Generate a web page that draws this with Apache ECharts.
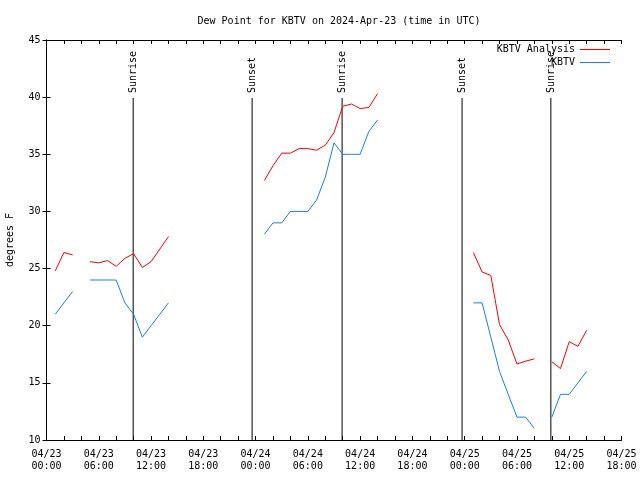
<!DOCTYPE html>
<html>
<head>
<meta charset="utf-8">
<script src="https://cdn.jsdelivr.net/npm/echarts@6/dist/echarts.min.js"></script>
<style>html,body{margin:0;padding:0;background:#fff}#c{width:640px;height:480px}</style>
</head>
<body>
<div id="c"></div>
<script>
// Hours since 2024-04-23 00:00 UTC (null = gap)
const hours = [1,2,3,4, 5,6,7,8,9,10,11,12,13,14, 15,
  25,26,27,28,29,30,31,32,33,34,35,36,37,38, 39,
  49,50,51,52,53,54,55,56, 57,
  58,59,60,61,62];
const analysis = [24.8,26.4,26.2,null, 25.6,25.5,25.7,25.2,25.9,26.3,25.1,25.6,26.7,27.8, null,
  32.7,34.0,35.1,35.1,35.5,35.5,35.35,35.8,36.9,39.2,39.4,39.0,39.1,40.3, null,
  26.4,24.7,24.4,20.1,18.75,16.65,16.9,17.1, null,
  16.85,16.25,18.6,18.2,19.6];
const kbtv = [21,22,23,null, 24,24,24,24,22,21,19,20,21,22, null,
  28,29,29,30,30,30,31,33,36,35,35,35,37,38, null,
  22,22,19,16,14,12,12,11, null,
  12,14,14,15,16];
const sunHours = [9.95, 23.6, 33.93, 47.7, 57.89];
const sunLabels = ['Sunrise','Sunset','Sunrise','Sunset','Sunrise'];
const seriesNames = ['KBTV Analysis','KBTV'];
const yTicks = {min:10, max:45, interval:5};
const xTicks = {min:0, max:66, interval:6};

const FONT = 'DejaVu Sans Mono';
function pair(xs, ys){ return xs.map((x,i)=>[x, ys[i]]); }
function fmtX(v){
  const day = 23 + Math.floor(v/24);
  const h = v % 24;
  return '04/' + day + '\n' + String(h).padStart(2,'0') + ':00';
}

const chart = echarts.init(document.getElementById('c'), null, {renderer:'canvas'});
const axisLine = {show:true, lineStyle:{color:'#000', width:1}};
const tickStyle = {color:'#000', width:1};
const lineIcon = 'path://M0 0H30V1H0Z';
chart.setOption({
  animation:false,
  backgroundColor:'#fff',
  textStyle:{fontFamily:FONT},
  title:{text:'Dew Point for KBTV on 2024-Apr-23 (time in UTC)', left:334, top:11, textAlign:'center',
    textStyle:{fontFamily:FONT, fontSize:10, fontWeight:'normal', color:'#000'}},
  legend:{data:[{name:seriesNames[0], icon:lineIcon},{name:seriesNames[1], icon:lineIcon}],
    orient:'vertical', right:30, top:43, align:'right', padding:0,
    itemWidth:30, itemHeight:1, itemGap:0,
    textStyle:{fontFamily:FONT, fontSize:10, color:'#000', lineHeight:13}},
  grid:{left:46.5, right:18.5, top:40, bottom:40, containLabel:false, outerBoundsMode:'none'},
  xAxis:[{type:'value', min:xTicks.min, max:xTicks.max, interval:xTicks.interval, position:'bottom',
      axisLine:axisLine, splitLine:{show:false},
      axisTick:{show:true, inside:true, length:4, lineStyle:tickStyle},
      minorTick:{show:true, splitNumber:3, length:4, lineStyle:tickStyle},
      axisLabel:{formatter:fmtX, fontFamily:FONT, fontSize:10, color:'#000', lineHeight:12, margin:8}},
    {type:'value', min:xTicks.min, max:xTicks.max, interval:xTicks.interval, position:'top',
      axisLine:axisLine, splitLine:{show:false},
      axisTick:{show:true, inside:true, length:4, lineStyle:tickStyle},
      minorTick:{show:true, splitNumber:3, length:4, lineStyle:tickStyle},
      axisLabel:{show:false}}],
  yAxis:[{type:'value', min:yTicks.min, max:yTicks.max, interval:yTicks.interval, position:'left',
      name:'degrees F', nameLocation:'middle', nameRotate:90, nameGap:31,
      nameTextStyle:{fontFamily:FONT, fontSize:10, color:'#000'},
      axisLine:axisLine, splitLine:{show:false},
      axisTick:{show:true, inside:true, length:4, lineStyle:tickStyle},
      axisLabel:{fontFamily:FONT, fontSize:10, color:'#000', margin:6}},
    {type:'value', min:yTicks.min, max:yTicks.max, interval:yTicks.interval, position:'right',
      axisLine:axisLine, splitLine:{show:false},
      axisTick:{show:true, inside:true, length:4, lineStyle:tickStyle},
      axisLabel:{show:false}}],
  series:[
    {type:'custom', name:'sun', xAxisIndex:0, yAxisIndex:0, silent:true, z:1,
      data: sunHours.map(t=>[t, yTicks.min]),
      renderItem:function(params, api){
        const t = api.value(0);
        const b = api.coord([t, yTicks.min]);
        const tp = api.coord([t, yTicks.max]);
        const lineTop = tp[1] + 0.145*(b[1]-tp[1]);
        return {type:'group', children:[
          {type:'line', shape:{x1:b[0], y1:b[1], x2:b[0], y2:lineTop}, style:{stroke:'#000', lineWidth:1}},
          {type:'text', x:b[0]+0.5, y:lineTop-5, rotation:Math.PI/2,
            style:{text:sunLabels[params.dataIndex], fill:'#000', font:'10px "'+FONT+'"', textAlign:'left', textVerticalAlign:'middle'}}
        ]};
      }},
    {type:'line', name:seriesNames[0], data:pair(hours, analysis), symbol:'none', connectNulls:false, z:3,
      lineStyle:{color:'#ff0000', width:1}, itemStyle:{color:'#ff0000'}},
    {type:'line', name:seriesNames[1], data:pair(hours, kbtv), symbol:'none', connectNulls:false, z:3,
      lineStyle:{color:'#1a80e6', width:1}, itemStyle:{color:'#1a80e6'}}
  ]
});
</script>
</body>
</html>
